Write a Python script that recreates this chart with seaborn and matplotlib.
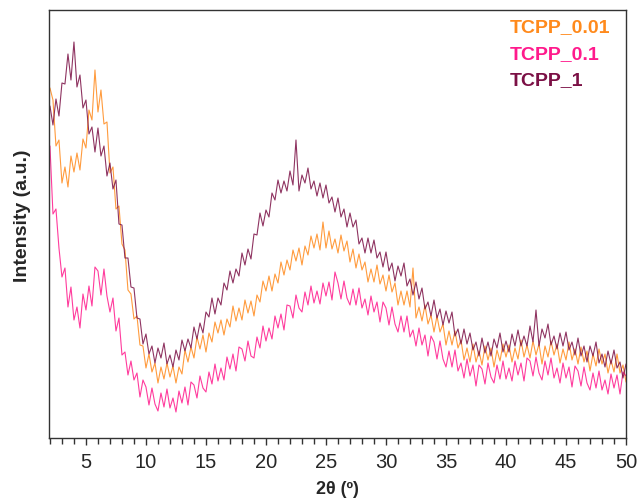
import numpy as np
import pandas as pd
import matplotlib
matplotlib.use("Agg")
import matplotlib.pyplot as plt
from matplotlib.ticker import MultipleLocator
import seaborn as sns

# 2-theta grid (degrees)
two_theta = np.arange(2.0, 50.0001, 0.25)

# Diffracted intensity (arbitrary units) for each sample
tcpp_001 = [
    350, 338, 292, 298, 255, 271, 251, 282, 266, 285, 268, 299, 290, 328, 318, 368,
    326, 348, 314, 316, 265, 271, 229, 232, 194, 188, 148, 144, 119, 122, 93, 92,
    70, 84, 66, 75, 55, 71, 59, 75, 61, 72, 55, 71, 64, 88, 76, 91,
    80, 101, 89, 103, 86, 105, 96, 116, 105, 118, 103, 119, 111, 132, 117, 130,
    118, 138, 125, 137, 122, 143, 136, 157, 147, 162, 147, 164, 155, 176, 163, 178,
    168, 188, 177, 190, 173, 192, 183, 202, 190, 204, 188, 216, 190, 207, 189, 199,
    185, 203, 187, 197, 176, 189, 170, 184, 168, 176, 156, 169, 156, 173, 154, 163,
    147, 163, 146, 155, 133, 147, 133, 147, 131, 170, 120, 131, 117, 133, 114, 123,
    106, 122, 106, 114, 93, 107, 93, 107, 90, 98, 78, 90, 76, 94, 76, 87,
    73, 92, 78, 90, 71, 88, 77, 94, 81, 93, 76, 90, 79, 98, 81, 93,
    80, 97, 83, 94, 74, 92, 81, 97, 83, 94, 75, 89, 78, 96, 78, 89,
    74, 91, 76, 87, 67, 84, 72, 89, 74, 84, 65, 78, 66, 84, 65, 73,
    56,
]
tcpp_01 = [
    292, 224, 229, 190, 161, 170, 131, 151, 118, 131, 110, 144, 128, 152, 132, 171,
    167, 143, 169, 142, 126, 140, 107, 120, 83, 86, 63, 77, 58, 65, 41, 58,
    51, 33, 50, 34, 27, 45, 31, 49, 30, 40, 26, 47, 35, 51, 33, 56,
    53, 40, 62, 50, 46, 66, 54, 74, 57, 70, 58, 81, 69, 84, 67, 91,
    89, 77, 97, 82, 80, 101, 90, 112, 97, 110, 99, 122, 110, 124, 108, 133,
    132, 120, 143, 130, 126, 146, 133, 152, 135, 147, 134, 155, 142, 156, 138, 166,
    155, 139, 157, 140, 133, 149, 133, 150, 130, 139, 123, 142, 126, 136, 116, 136,
    130, 113, 131, 114, 106, 122, 106, 122, 101, 108, 92, 110, 93, 103, 82, 102,
    96, 79, 97, 79, 71, 87, 71, 88, 67, 75, 60, 79, 62, 73, 52, 73,
    69, 54, 75, 61, 55, 73, 59, 77, 59, 70, 57, 77, 63, 75, 57, 80,
    77, 62, 81, 65, 58, 77, 63, 80, 60, 70, 55, 75, 60, 71, 51, 72,
    67, 52, 71, 55, 48, 65, 50, 67, 48, 58, 44, 64, 50, 63, 44, 66,
    62,
]
tcpp_1 = [
    332, 313, 339, 322, 355, 354, 384, 358, 396, 351, 363, 330, 338, 304, 311, 286,
    310, 282, 292, 262, 275, 249, 258, 214, 213, 180, 180, 151, 150, 120, 119, 94,
    104, 84, 92, 75, 90, 80, 95, 74, 83, 71, 88, 78, 98, 87, 99, 90,
    111, 99, 115, 105, 126, 121, 140, 124, 140, 133, 155, 148, 167, 155, 169, 162,
    185, 173, 189, 179, 204, 203, 225, 212, 228, 221, 245, 238, 258, 245, 257, 247,
    267, 253, 298, 247, 263, 255, 270, 249, 257, 242, 255, 240, 253, 235, 241, 226,
    240, 221, 229, 211, 225, 211, 218, 194, 200, 185, 200, 185, 198, 180, 186, 171,
    186, 167, 175, 157, 172, 162, 175, 152, 159, 143, 156, 139, 150, 129, 136, 122,
    138, 120, 129, 113, 127, 115, 126, 102, 109, 94, 109, 94, 105, 88, 96, 82,
    100, 85, 96, 82, 99, 90, 105, 86, 97, 86, 104, 92, 108, 92, 102, 92,
    112, 96, 128, 92, 109, 100, 114, 93, 102, 89, 105, 92, 106, 88, 96, 83,
    100, 82, 92, 76, 92, 82, 96, 75, 84, 71, 87, 74, 88, 70, 76, 60,
    74,
]

samples = ["TCPP_0.01", "TCPP_0.1", "TCPP_1"]
colors = ["#ff8a1c", "#ff1a8c", "#7b1045"]

df = pd.concat(
    [
        pd.DataFrame({"2theta": two_theta, "intensity": vals, "sample": name})
        for name, vals in zip(samples, [tcpp_001, tcpp_01, tcpp_1])
    ],
    ignore_index=True,
)

sns.set_style("ticks")
plt.rcParams["font.family"] = ["Liberation Sans", "DejaVu Sans"]

fig = plt.figure(figsize=(6.41, 4.98), dpi=100)
ax = fig.add_axes([49 / 641, 60 / 498, 577 / 641, 428 / 498])

sns.lineplot(
    data=df, x="2theta", y="intensity", hue="sample",
    hue_order=samples, palette=dict(zip(samples, colors)),
    estimator=None, sort=False, linewidth=0.8, alpha=0.85,
    legend=False, ax=ax,
)

ax.set_xlim(1.92, 50)
ax.set_ylim(0, 428)
ax.xaxis.set_major_locator(MultipleLocator(5))
ax.xaxis.set_minor_locator(MultipleLocator(1))
ax.set_xticks(np.arange(5, 51, 5))
ax.set_yticks([])
ax.tick_params(axis="x", which="major", direction="out", length=5,
               width=1, labelsize=14.5, color="#333333", pad=6)
ax.tick_params(axis="x", which="minor", direction="out", length=4.5,
               width=1, color="#333333")
for side in ["left", "right", "top", "bottom"]:
    ax.spines[side].set_visible(True)
    ax.spines[side].set_color("#333333")
    ax.spines[side].set_linewidth(1.0)

ax.set_xlabel("2θ (º)", fontsize=13, fontweight="bold")
ax.xaxis.set_label_coords(0.5, -0.1)
ax.set_ylabel("Intensity (a.u.)", fontsize=14, fontweight="bold")
ax.yaxis.set_label_coords(-0.032, 0.52)

# Sample labels in the matching line colours
for i, (name, col) in enumerate(zip(samples, colors)):
    ax.text(0.798, 0.958 - i * 0.062, name, transform=ax.transAxes,
            color=col, fontsize=14, fontweight="bold", va="center", ha="left")

fig.savefig("out.png", dpi=100)
